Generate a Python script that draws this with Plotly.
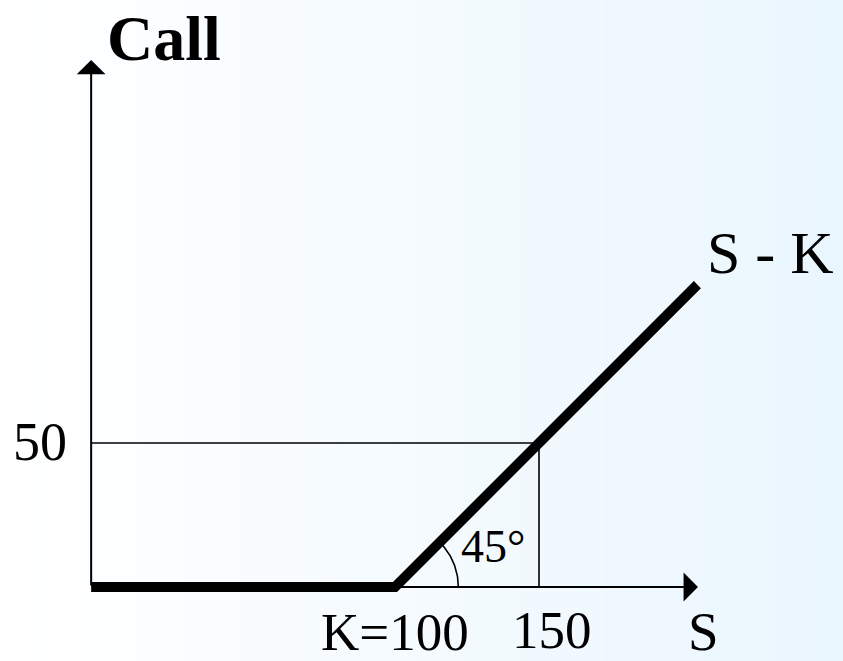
import numpy as np
import plotly.graph_objects as go

# ---- data ----
S_points = [-5.5, 100, 205]          # stock price at kinks / ends
call_payoff = [0, 0, 105]            # call value max(S-K,0)
K = 100
S_ref = 150
C_ref = 50
axis_S0 = -5.5
x_arrow_end = 205.2
y_arrow_end = 183

FONT = "Liberation Serif, Times New Roman, serif"

fig = go.Figure()

# background gradient (white -> light blue)
n = 60
c0 = np.array([255, 255, 255])
c1 = np.array([234, 246, 254])
for i in range(n):
    t = i / (n - 1)
    c = (c0 + (c1 - c0) * t).round().astype(int)
    fig.add_shape(type="rect", xref="paper", yref="paper",
                  x0=i / n, x1=(i + 1) / n + 0.002, y0=0, y1=1,
                  fillcolor=f"rgb({c[0]},{c[1]},{c[2]})", line_width=0, layer="below")

# thin reference lines
fig.add_trace(go.Scatter(x=[axis_S0, S_ref, S_ref], y=[C_ref, C_ref, 0], mode="lines",
                         line=dict(color="black", width=1.6), hoverinfo="skip"))

# 45 degree arc
r = 22
th = np.linspace(0, np.pi / 4, 40)
fig.add_trace(go.Scatter(x=K + r * np.cos(th), y=r * np.sin(th), mode="lines",
                         line=dict(color="black", width=1.6), hoverinfo="skip"))

# payoff line
fig.add_trace(go.Scatter(x=S_points, y=call_payoff, mode="lines",
                         line=dict(color="black", width=10), hoverinfo="skip"))

# axes with arrows
fig.add_annotation(x=x_arrow_end, y=0, ax=axis_S0, ay=0, xref="x", yref="y",
                   axref="x", ayref="y", text="", showarrow=True,
                   arrowhead=1, arrowwidth=2, arrowsize=2.4, arrowcolor="black")
fig.add_annotation(x=axis_S0, y=y_arrow_end, ax=axis_S0, ay=0, xref="x", yref="y",
                   axref="x", ayref="y", text="", showarrow=True,
                   arrowhead=1, arrowwidth=2, arrowsize=2.4, arrowcolor="black")

def label(text, x, y, size, bold=False, xanchor="center"):
    fig.add_annotation(x=x, y=y, xref="x", yref="y", text=f"<b>{text}</b>" if bold else text,
                       showarrow=False, xanchor=xanchor, yanchor="middle", borderpad=0,
                       font=dict(family=FONT, size=size, color="black"))

label("Call", 19.8, 190.5, 64, bold=True)
label("50", -13.5, 50.5, 54, xanchor="right")
label("K=100", 100, -15.6, 53)
label("150", 154.5, -15.0, 53)
label("S", 207, -15.4, 55)
label("S - K", 230.5, 116.0, 60)
label("45°", 134.0, 14.0, 46)

fig.update_layout(
    width=843, height=661,
    margin=dict(l=0, r=0, t=0, b=0),
    showlegend=False,
    paper_bgcolor="white", plot_bgcolor="rgba(0,0,0,0)",
    xaxis=dict(range=[-37.15, 255.56], visible=False, fixedrange=True),
    yaxis=dict(range=[-25.69, 203.82], visible=False, fixedrange=True),
)

fig.write_html("out.html", config={"displayModeBar": False},
               post_script="document.body.style.margin='0';document.body.style.overflow='hidden';")
